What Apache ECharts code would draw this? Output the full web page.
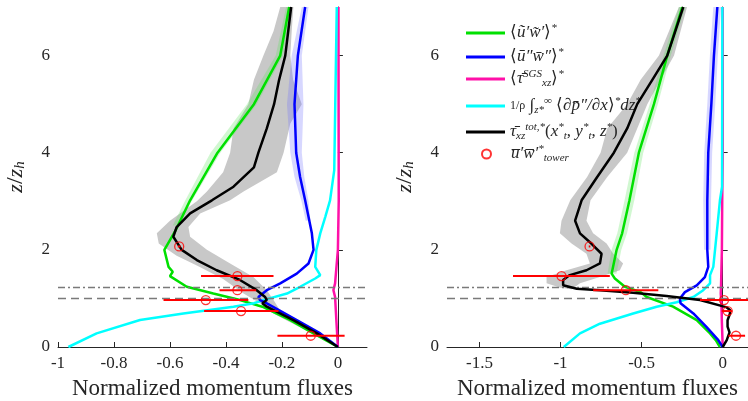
<!DOCTYPE html>
<html>
<head>
    <meta charset="utf-8">
    <script src="https://cdn.jsdelivr.net/npm/echarts@6/dist/echarts.min.js"></script>
</head>
<body style="margin:0">
<div id="main" style="width: 748px;height:401px;"></div>
<script type="text/javascript">
    // profiles are [flux, z/zh] pairs
    var leftGreen = [[-0.174,7],[-0.206,6],[-0.30,5],[-0.43,4],[-0.528,3.02],[-0.58,2.4],[-0.62,2.0],[-0.605,1.65],[-0.59,1.55],[-0.60,1.46],[-0.54,1.24],[-0.445,1.10],[-0.35,0.966],[-0.27,0.83],[-0.17,0.555],[-0.087,0.28],[0,0]];
    var leftBlue = [[-0.117,7],[-0.143,6],[-0.155,5],[-0.149,4],[-0.135,3.5],[-0.117,3.02],[-0.105,2.68],[-0.093,2.34],[-0.087,2.0],[-0.105,1.72],[-0.147,1.51],[-0.206,1.31],[-0.254,1.17],[-0.284,1.03],[-0.278,0.966],[-0.254,0.9],[-0.147,0.555],[-0.063,0.28],[0,0]];
    var leftMagenta = [[0.002,7],[0.003,3],[0,2],[-0.01,1.31],[-0.016,1.17],[-0.01,1.03],[-0.005,0.5],[0,0]];
    var leftCyan = [[-0.004,7],[-0.013,3.64],[-0.028,3.02],[-0.045,2.68],[-0.063,2.34],[-0.077,2.0],[-0.081,1.65],[-0.063,1.48],[-0.081,1.41],[-0.135,1.24],[-0.182,1.10],[-0.266,0.966],[-0.30,0.9],[-0.373,0.83],[-0.552,0.69],[-0.707,0.555],[-0.862,0.28],[-0.963,0]];
    var leftBlack = [[-0.167,7],[-0.188,6],[-0.21,5.5],[-0.228,5],[-0.254,4.5],[-0.284,4],[-0.30,3.7],[-0.373,3.3],[-0.45,3.02],[-0.528,2.75],[-0.576,2.47],[-0.588,2.27],[-0.558,2.0],[-0.504,1.79],[-0.433,1.58],[-0.35,1.38],[-0.29,1.17],[-0.26,1.03],[-0.254,0.966],[-0.27,0.9],[-0.254,0.83],[-0.159,0.555],[-0.075,0.28],[0,0]];
    var leftBlackBandL = [[-0.206,7],[-0.23,6.5],[-0.266,6],[-0.30,5.5],[-0.32,5],[-0.373,4.5],[-0.385,4],[-0.41,3.6],[-0.468,3.2],[-0.504,3.0],[-0.60,2.6],[-0.647,2.34],[-0.64,2.13],[-0.576,1.88],[-0.504,1.68],[-0.41,1.4],[-0.337,1.1],[-0.278,0.9],[-0.231,0.69],[-0.15,0.45],[-0.07,0.2],[0,0]];
    var leftBlackBandR = [[-0.159,7],[-0.165,6.5],[-0.17,6],[-0.16,5.5],[-0.129,5.0],[-0.17,4.6],[-0.194,4.0],[-0.218,3.6],[-0.337,3.2],[-0.385,3.02],[-0.492,2.75],[-0.534,2.47],[-0.528,2.27],[-0.468,2.0],[-0.385,1.72],[-0.302,1.44],[-0.254,1.17],[-0.23,0.97],[-0.2,0.69],[-0.12,0.45],[-0.05,0.2],[0,0]];
    var leftBlueBandL = [[-0.129,7],[-0.165,6],[-0.182,5],[-0.17,4],[-0.155,3.5],[-0.13,3.0],[-0.115,2.6]];
    var leftBlueBandR = [[-0.105,7],[-0.129,6],[-0.123,5],[-0.129,4],[-0.12,3.5],[-0.105,3.0],[-0.098,2.6]];
    var leftGreenBandL = [[-0.185,7],[-0.222,6],[-0.325,5],[-0.455,4],[-0.545,3.02],[-0.59,2.5]];
    var leftGreenBandR = [[-0.165,7],[-0.196,6],[-0.29,5],[-0.42,4],[-0.52,3.02],[-0.57,2.5]];
    var leftTower = [[-0.567,2.07],[-0.359,1.46],[-0.359,1.17],[-0.472,0.966],[-0.346,0.74],[-0.097,0.232]];
    var leftTowerBars = [[-0.572,-0.562,2.07],[-0.489,-0.230,1.46],[-0.423,-0.292,1.17],[-0.623,-0.32,0.966],[-0.478,-0.212,0.74],[-0.216,0.024,0.232]];

    var rightGreen = [[-0.249,7],[-0.342,6],[-0.424,5],[-0.517,4],[-0.575,3.02],[-0.62,2.34],[-0.654,2.0],[-0.685,1.51],[-0.665,1.41],[-0.603,1.24],[-0.506,1.13],[-0.469,1.03],[-0.306,0.83],[-0.16,0.555],[-0.078,0.28],[-0.043,0.14],[-0.017,0]];
    var rightBlue = [[-0.033,7],[-0.054,6],[-0.07,5],[-0.089,4],[-0.095,3],[-0.095,2],[-0.089,1.65],[-0.11,1.44],[-0.16,1.27],[-0.233,1.13],[-0.264,1.0],[-0.26,0.9],[-0.181,0.69],[-0.099,0.41],[-0.027,0.14],[0,0]];
    var rightMagenta = [[0.0,7],[0.0,4],[-0.003,3],[-0.005,2],[-0.01,1.3],[-0.012,1.1],[-0.008,0.9],[-0.005,0.5],[0,0]];
    var rightCyan = [[-0.002,7],[-0.004,3.3],[-0.017,3.02],[-0.037,2.34],[-0.058,1.65],[-0.078,1.48],[-0.078,1.31],[-0.12,1.17],[-0.181,1.03],[-0.284,0.92],[-0.407,0.83],[-0.552,0.69],[-0.757,0.48],[-0.88,0.28],[-0.98,0]];
    var rightBlack = [[-0.243,7],[-0.342,6],[-0.434,5.5],[-0.527,5],[-0.589,4.5],[-0.671,4],[-0.774,3.5],[-0.87,3.02],[-0.91,2.6],[-0.88,2.34],[-0.81,2.13],[-0.747,1.92],[-0.757,1.72],[-0.84,1.58],[-0.943,1.48],[-0.984,1.38],[-0.984,1.27],[-0.90,1.2],[-0.757,1.17],[-0.552,1.116],[-0.346,1.048],[-0.14,0.966],[0.025,0.815],[0.045,0.76],[0.045,0.69],[0.03,0.55],[0.03,0.42],[0.042,0.3],[0.025,0.14],[0,0]];
    var rightBlackBandL = [[-0.27,7],[-0.393,6],[-0.506,5.5],[-0.589,5],[-0.712,4.5],[-0.753,4],[-0.836,3.5],[-0.94,3.02],[-0.994,2.6],[-1.004,2.34],[-0.932,2.13],[-0.84,1.92],[-0.819,1.72],[-0.963,1.58],[-1.086,1.44],[-1.086,1.31],[-1.0,1.22],[-0.93,1.19]];
    var rightBlackBandR = [[-0.22,7],[-0.30,6],[-0.383,5.5],[-0.465,5],[-0.527,4.5],[-0.589,4],[-0.712,3.5],[-0.815,3.02],[-0.84,2.6],[-0.799,2.34],[-0.716,2.13],[-0.675,1.92],[-0.614,1.72],[-0.634,1.58],[-0.757,1.44],[-0.88,1.31],[-0.93,1.19]];
    var rightBlueBandL = [[-0.058,7],[-0.079,6],[-0.095,5],[-0.114,4],[-0.12,3],[-0.115,2]];
    var rightBlueBandR = [[-0.01,7],[-0.03,6],[-0.046,5],[-0.065,4],[-0.072,3],[-0.075,2]];
    var rightGreenBandL = [[-0.27,7],[-0.365,6],[-0.45,5],[-0.545,4],[-0.605,3.02],[-0.65,2.34],[-0.685,2.0],[-0.71,1.51]];
    var rightGreenBandR = [[-0.23,7],[-0.32,6],[-0.40,5],[-0.49,4],[-0.545,3.02],[-0.59,2.34],[-0.625,2.0],[-0.655,1.51]];
    var rightTower = [[-0.821,2.07],[-0.994,1.46],[-0.597,1.17],[0.008,0.966],[0.031,0.74],[0.082,0.232]];
    var rightTowerBars = [[-0.826,-0.816,2.07],[-1.293,-0.696,1.46],[-0.799,-0.397,1.17],[-0.14,0.2,0.966],[-0.006,0.059,0.74],[0.035,0.138,0.232]];

    var leftTicks = [-1, -0.8, -0.6, -0.4, -0.2, 0];
    var rightTicks = [-1.5, -1, -0.5, 0];
    var zTicks = [0, 2, 4, 6];
    var canopyTop = 1.233, canopyH = 1.0;

    var colors = {uw: '#00e000', uw2: '#0000ff', sgs: '#ff10a8', press: '#00ffff', tot: '#000000', tower: '#ff0000'};

    var serif = 'Liberation Serif';
    var axisCol = '#262626';

    function band(gi, left, right, fill) {
        var pts = left.concat(right.slice().reverse());
        return {
            type: 'custom', xAxisIndex: gi, yAxisIndex: gi, silent: true, z: 1,
            data: pts, encode: {x: 0, y: 1},
            renderItem: function (params, api) {
                if (params.dataIndex !== 0) return null;
                return {type: 'polygon', shape: {points: pts.map(function (p) { return api.coord(p); })}, style: {fill: fill}};
            }
        };
    }
    function line(gi, name, data, z) {
        return {name: name, type: 'line', xAxisIndex: gi, yAxisIndex: gi, data: data, showSymbol: false, symbol: 'none',
            z: z, lineStyle: {color: colors[name], width: 2.5}, itemStyle: {color: colors[name]}, silent: true};
    }
    function bars(gi, data) {
        return {
            type: 'custom', xAxisIndex: gi, yAxisIndex: gi, silent: true, z: 8, data: data, encode: {x: [0, 1], y: 2},
            renderItem: function (params, api) {
                var a = api.coord([api.value(0), api.value(2)]);
                var b = api.coord([api.value(1), api.value(2)]);
                return {type: 'line', shape: {x1: a[0], y1: a[1], x2: b[0], y2: b[1]}, style: {stroke: '#ff0000', lineWidth: 2}};
            }
        };
    }
    function tower(gi, data) {
        return {name: 'tower', type: 'scatter', xAxisIndex: gi, yAxisIndex: gi, data: data, symbol: 'circle', symbolSize: 9, z: 9,
            itemStyle: {color: 'rgba(255,0,0,0)', borderColor: '#ff0000', borderWidth: 1.3}, silent: true};
    }
    function refLines() {
        return {
            silent: true, symbol: ['none', 'none'], label: {show: false},
            data: [
                {yAxis: canopyTop, lineStyle: {type: [7, 3, 2, 3], color: '#7a7a7a', width: 1.3}},
                {yAxis: canopyH, lineStyle: {type: [8, 5], color: '#7a7a7a', width: 1.3}}
            ]
        };
    }
    function xAxis(gi, min, max, ticks) {
        return {
            type: 'value', gridIndex: gi, min: min, max: max,
            name: 'Normalized momentum fluxes', nameLocation: 'middle', nameGap: 30,
            nameTextStyle: {fontFamily: serif, fontSize: 23, color: axisCol},
            axisLine: {lineStyle: {color: axisCol, width: 1}},
            axisTick: {inside: true, length: 5, customValues: ticks, lineStyle: {color: axisCol}},
            axisLabel: {customValues: ticks, fontFamily: serif, fontSize: 17, color: axisCol, margin: 8},
            splitLine: {show: false}
        };
    }
    function yAxis(gi) {
        return {
            type: 'value', gridIndex: gi, min: 0, max: 7,
            name: '{i|z}{n|/}{i|z}{s|h}', nameLocation: 'middle', nameGap: 30,
            nameTextStyle: {rich: {
                i: {fontFamily: serif, fontStyle: 'italic', fontSize: 22, color: axisCol},
                n: {fontFamily: serif, fontSize: 24, color: axisCol},
                s: {fontFamily: serif, fontStyle: 'italic', fontSize: 15, color: axisCol, verticalAlign: 'bottom', padding: [8, 0, 0, 0]}
            }},
            axisLine: {show: true, lineStyle: {color: axisCol, width: 1}},
            axisTick: {inside: true, length: 5, customValues: zTicks, lineStyle: {color: axisCol}},
            axisLabel: {customValues: zTicks, fontFamily: serif, fontSize: 17, color: axisCol, margin: 8},
            splitLine: {show: false}
        };
    }

    var labels = {
        uw: '⟨{i|ũ′w̃′}⟩{sp|*}',
        uw2: '⟨{i|ū″w̄″}⟩{sp|*}',
        sgs: '⟨{i|τ̄}{sp|SGS}{sb|xz}⟩{sp|*}',
        press: '{sm|1/ρ} ∫{sb|z*}{sp|∞} ⟨{i|∂p̄″/∂x}⟩{sp|*}{i|dz}{sp|*}',
        tot: '{i|τ̄}{sb|xz}{sp|tot,*}({i|x}{sp|*}{sb|t}, {i|y}{sp|*}{sb|t}, {i|z}{sp|*})',
        tower: '{i|u̅′w̅′}{sp|*}{sb|tower}'
    };
    // legend rows: [series name, centre y in px]
    var legendRows = [['uw', 33], ['uw2', 57], ['sgs', 79], ['press', 106], ['tot', 132], ['tower', 154]];
    var legendText = {
        fontFamily: serif, fontSize: 17, color: axisCol, height: 20, lineHeight: 20,
        rich: {
            i: {fontFamily: serif, fontStyle: 'italic', fontSize: 17, color: axisCol},
            sp: {fontFamily: serif, fontStyle: 'italic', fontSize: 11, color: axisCol, verticalAlign: 'top'},
            sb: {fontFamily: serif, fontStyle: 'italic', fontSize: 11, color: axisCol, verticalAlign: 'bottom'},
            sm: {fontFamily: serif, fontSize: 12, color: axisCol}
        }
    };
    var legends = legendRows.map(function (r) {
        var isDot = r[0] === 'tower';
        return {
            orient: 'vertical', padding: 0, top: r[1] - 10, left: isDot ? 481 : 466,
            itemWidth: isDot ? 9 : 39, itemHeight: isDot ? 9 : 3, itemGap: 0,
            data: [{name: r[0], icon: isDot ? 'circle' : 'rect'}], selectedMode: false,
            formatter: function (n) { return labels[n]; },
            textStyle: Object.assign({}, legendText, {padding: [0, 0, 0, isDot ? 15 : 0]})
        };
    });

    var myChart = echarts.init(document.getElementById('main'));
    var option = {
        animation: false,
        backgroundColor: '#ffffff',
        grid: [
            {left: 58, top: 7, width: 309, height: 340, outerBoundsMode: 'none', containLabel: false},
            {left: 447, top: 7, right: 0, height: 340, outerBoundsMode: 'none', containLabel: false}
        ],
        xAxis: [xAxis(0, -1, 0.104, leftTicks), xAxis(1, -1.7, 0.156, rightTicks)],
        yAxis: [yAxis(0), yAxis(1)],
        legend: legends,
        series: [
            band(0, leftBlackBandL, leftBlackBandR, '#c8c8c8'),
            band(0, leftBlueBandL, leftBlueBandR, 'rgba(110,110,255,0.28)'),
            band(0, leftGreenBandL, leftGreenBandR, 'rgba(90,225,90,0.28)'),
            band(1, rightBlackBandL, rightBlackBandR, '#c8c8c8'),
            band(1, rightBlueBandL, rightBlueBandR, 'rgba(110,110,255,0.28)'),
            band(1, rightGreenBandL, rightGreenBandR, 'rgba(90,225,90,0.28)'),
            line(0, 'uw', leftGreen, 3),
            line(0, 'uw2', leftBlue, 4),
            Object.assign(line(0, 'sgs', leftMagenta, 3), {markLine: refLines()}),
            line(0, 'press', leftCyan, 3),
            line(0, 'tot', leftBlack, 5),
            line(1, 'uw', rightGreen, 3),
            line(1, 'uw2', rightBlue, 4),
            Object.assign(line(1, 'sgs', rightMagenta, 3), {markLine: refLines()}),
            line(1, 'press', rightCyan, 3),
            line(1, 'tot', rightBlack, 5),
            bars(0, leftTowerBars),
            bars(1, rightTowerBars),
            tower(0, leftTower),
            tower(1, rightTower)
        ]
    };
    myChart.setOption(option);
</script>
</body>
</html>
